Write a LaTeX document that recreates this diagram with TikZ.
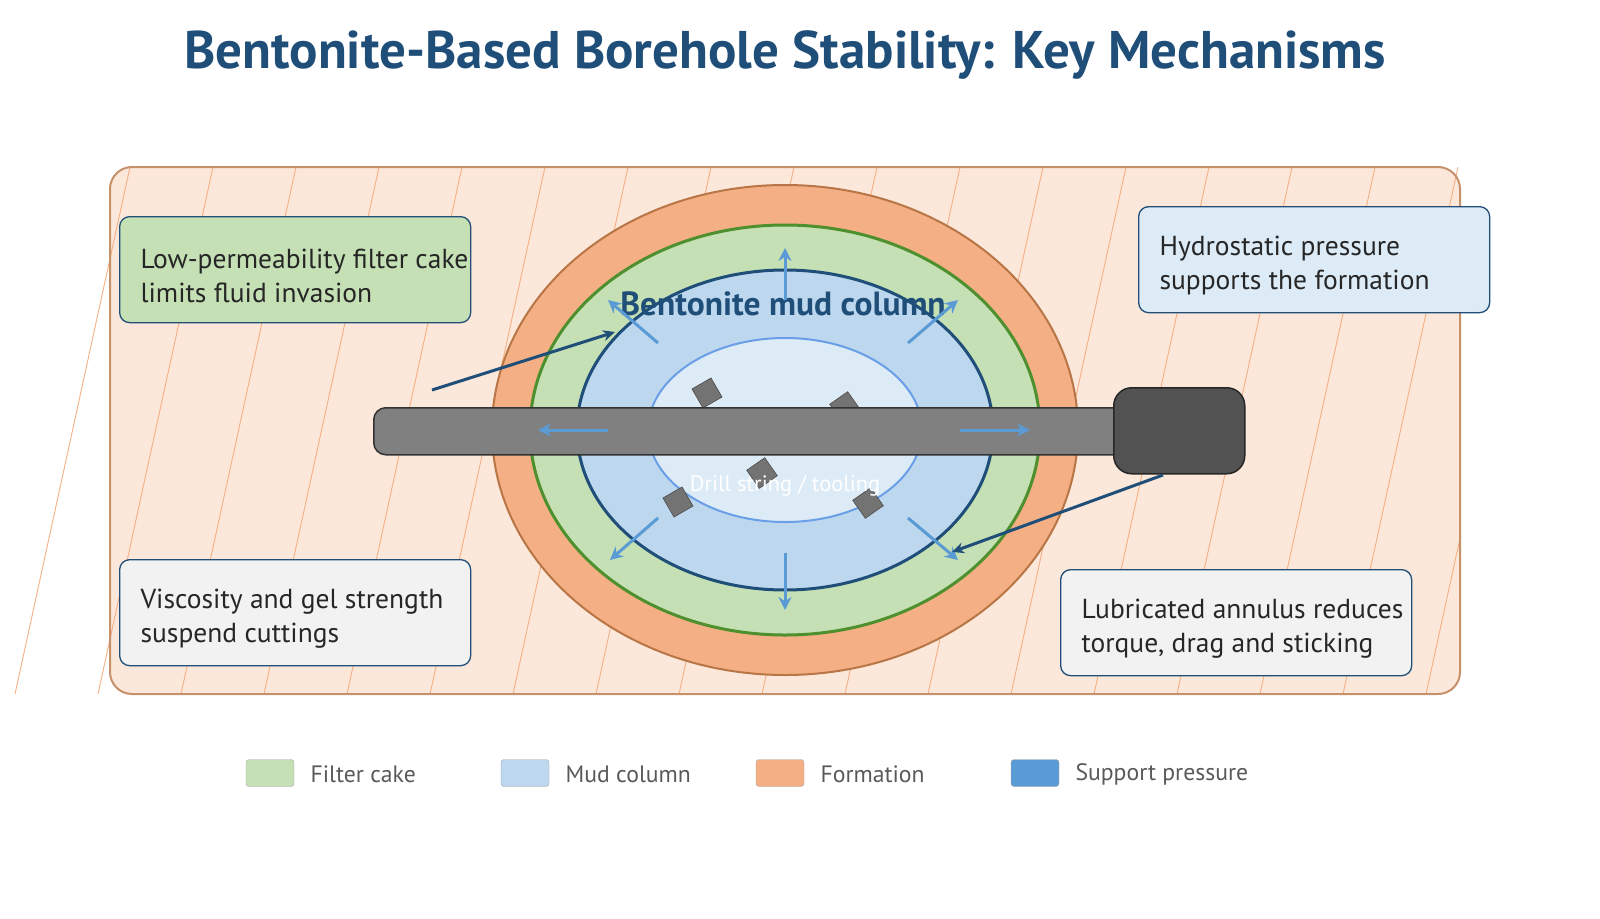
\documentclass[tikz,border=0pt]{standalone}
\usepackage{fontspec}
\setmainfont{PT Sans}
\usetikzlibrary{arrows.meta,shapes.geometric}
\begin{document}
\begin{tikzpicture}[x=1pt,y=-1pt,
 box/.style={draw=c1,line width=1.3,rounded corners=10,minimum width=351,minimum height=106,anchor=north west},
 btxt/.style={align=left,anchor=west,font=\fontsize{27.5}{34}\selectfont,text=black!85},
 pa/.style={draw=c4,line width=3,-{Stealth[length=13,width=13]}},
 da/.style={draw=c1,line width=3,-{Stealth[length=12,width=11]}},
 cut/.style={fill=gray!90!black,draw=gray!60!black,line width=0.6,minimum size=22,inner sep=0},
 leg/.style={draw=gray!70,rounded corners=3,minimum width=48,minimum height=27,inner sep=0},
 legt/.style={anchor=west,font=\fontsize{23.7}{27}\selectfont,text=black!65}]
\definecolor{c1}{HTML}{1F4E79}
\definecolor{c4}{HTML}{5B9BD5}
\definecolor{fmfill}{HTML}{FCE8DA}
\definecolor{fmring}{HTML}{F4AF84}
\definecolor{fmline}{HTML}{B87545}
\definecolor{gfill}{HTML}{C5E0B4}
\definecolor{gline}{HTML}{4E8F2E}
\definecolor{mfill}{HTML}{BDD7EE}
\definecolor{ifill}{HTML}{DDEBF7}
\definecolor{iline}{HTML}{6A9FE8}
\useasboundingbox (0,0) rectangle (1600,918);
\node[font=\bfseries\fontsize{53}{56}\selectfont,text=c1] (title) at (785,55) {Bentonite-Based Borehole Stability: Key Mechanisms};
% formation
\draw[fill=fmfill,draw=none,rounded corners=22] (110,167) rectangle (1460,694);
\begin{scope}
\clip (0,167) rectangle (1460,694);
\foreach \k in {0,...,17} {\draw[fmring,line width=0.9] ({15+83*\k},694) -- ({130+83*\k},167);}
\end{scope}
\draw[draw=fmline!80,line width=2,rounded corners=22] (110,167) rectangle (1460,694);
\node[ellipse,draw=fmline,line width=2,fill=fmring,minimum width=586,minimum height=490,inner sep=0] (ring) at (785,430) {};
\node[ellipse,draw=gline,line width=3,fill=gfill,minimum width=510,minimum height=410,inner sep=0] (cake) at (785,430) {};
\node[ellipse,draw=c1,line width=3,fill=mfill,minimum width=416,minimum height=320,inner sep=0] (mud) at (785,430) {};
\node[ellipse,draw=iline,line width=2,fill=ifill,minimum width=274,minimum height=184,inner sep=0] (inner) at (785,430) {};
\foreach \n/\p/\r in {ca/{707,393}/30,cb/{845,407}/35,cc/{762,473}/35,cd/{678,502}/30,ce/{868,503}/35}
 \node[cut,rotate=\r] (\n) at (\p) {};
% drill string
\node[draw=black!80,line width=1.5,fill=gray,rounded corners=12,minimum width=767,minimum height=47,anchor=north west,inner sep=0] (pipe) at (373,407) {};
\node[draw=black!85,line width=1.5,fill=black!68,rounded corners=18,minimum width=131,minimum height=86,anchor=north west,inner sep=0] (joint) at (1113,387) {};
\node[text=white,font=\fontsize{22.4}{26}\selectfont] (dlab) at (785,486) {Drill string / tooling};
\node[text=c1,font=\bfseries\fontsize{33.5}{36}\selectfont] (mlab) at (783,304) {Bentonite mud column};
% pressure arrows
\coordinate (u1) at (785,300); \coordinate (u2) at (785,248);
\coordinate (d1) at (785,553); \coordinate (d2) at (785,610);
\coordinate (l1) at (608,430); \coordinate (l2) at (538,430);
\coordinate (r1) at (960,430); \coordinate (r2) at (1030,430);
\coordinate (a1) at (658,343); \coordinate (a2) at (608,300);
\coordinate (b1) at (908,343); \coordinate (b2) at (958,300);
\coordinate (e1) at (658,518); \coordinate (e2) at (610,560);
\coordinate (f1) at (908,518); \coordinate (f2) at (958,560);
\foreach \s in {u,d,l,r,a,b,e,f} \draw[pa] (\s1) -- (\s2);
% boxes
\node[box,fill=gfill] (bA) at (119,216) {};
\node[btxt] (tA) at (137,276) {Low-permeability filter cake\\limits fluid invasion};
\node[box,fill=ifill] (bB) at (1138,206) {};
\node[btxt] (tB) at (1156,266) {Hydrostatic pressure\\supports the formation};
\node[box,fill=black!5] (bC) at (119,559) {};
\node[btxt] (tC) at (137,619) {Viscosity and gel strength\\suspend cuttings};
\node[box,fill=black!5] (bD) at (1060,569) {};
\node[btxt] (tD) at (1078,629) {Lubricated annulus reduces\\torque, drag and sticking};
\coordinate (s1) at (432,390); \coordinate (s2) at (615,332);
\coordinate (t1) at (1163,475); \coordinate (t2) at (952,552);
\draw[da] (s1) -- (s2);
\draw[da] (t1) -- (t2);
% legend
\node[leg,fill=gfill] (L1) at (270,773) {};
\node[legt] (L1t) at (307,774) {Filter cake};
\node[leg,fill=mfill] (L2) at (525,773) {};
\node[legt] (L2t) at (562,774) {Mud column};
\node[leg,fill=fmring] (L3) at (780,773) {};
\node[legt] (L3t) at (817,774) {Formation};
\node[leg,fill=c4] (L4) at (1035,773) {};
\node[legt] (L4t) at (1072,774) {Support pressure};
\end{tikzpicture}
\end{document}
